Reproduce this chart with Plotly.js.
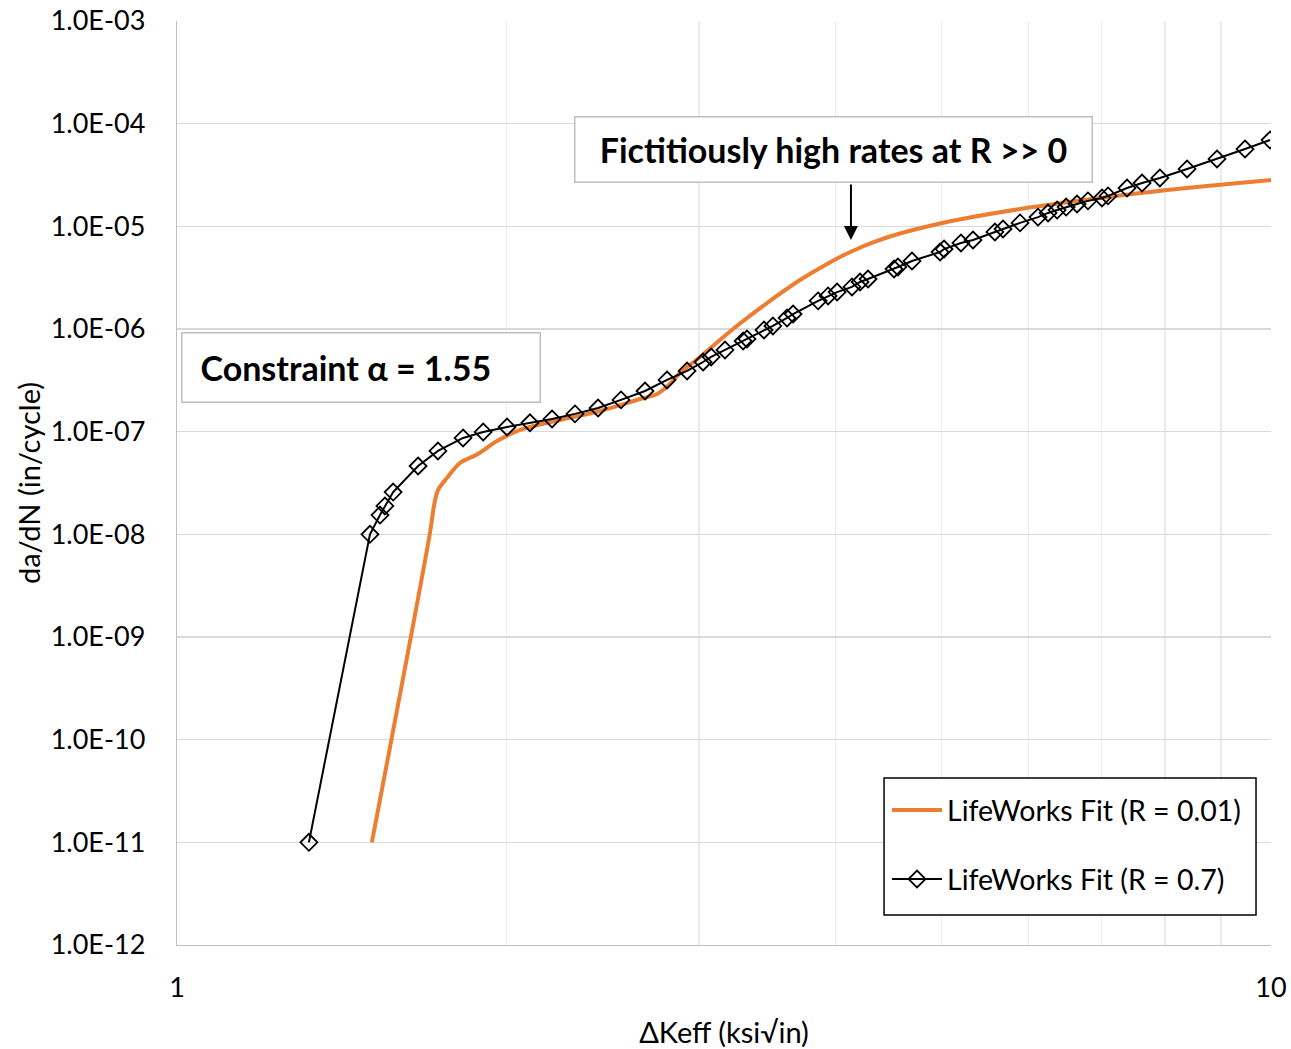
<!DOCTYPE html>
<html>
<head>
<meta charset="utf-8">
<script src="https://cdn.plot.ly/plotly-3.0.1.min.js"></script>
<style>
  html, body { margin: 0; padding: 0; background: #ffffff; }
  #chart { width: 1291px; height: 1049px; }
</style>
</head>
<body>
<div id="chart"></div>
<script>
// LifeWorks crack-growth fit, R = 0.01 (smooth curve)
const fitLowR_dK = [1.507, 1.703, 1.718, 1.732, 1.765, 1.814, 1.884, 1.961, 2.059, 2.239,
  2.436, 2.650, 2.747, 2.822, 2.882, 3.007, 3.223, 3.462, 3.711, 3.871, 4.036, 4.175,
  4.327, 4.484, 4.650, 4.983, 5.275, 6.059, 6.980, 8.034, 10.0];
const fitLowR_rate = [1.0e-11, 1.03e-8, 1.93e-8, 2.70e-8, 3.54e-8, 4.95e-8, 6.07e-8, 8.11e-8, 1.04e-7, 1.30e-7,
  1.59e-7, 2.08e-7, 2.33e-7, 2.91e-7, 3.73e-7, 5.34e-7, 1.0e-6, 1.79e-6, 3.00e-6, 3.93e-6, 5.03e-6, 5.95e-6,
  6.96e-6, 7.96e-6, 8.91e-6, 1.066e-5, 1.206e-5, 1.54e-5, 1.89e-5, 2.26e-5, 2.83e-5];

// LifeWorks crack-growth fit, R = 0.7 (evaluated points)
const fitHighR_dK = [1.320, 1.501, 1.533, 1.549, 1.576, 1.661, 1.732, 1.826, 1.905, 2.003,
  2.102, 2.202, 2.311, 2.426, 2.546, 2.678, 2.805, 2.926, 3.026, 3.078,
  3.169, 3.292, 3.319, 3.440, 3.505, 3.611, 3.657, 3.855, 3.937, 4.012,
  4.140, 4.211, 4.282, 4.523, 4.560, 4.697, 4.983, 5.025, 5.207, 5.341,
  5.593, 5.689, 5.897, 6.124, 6.255, 6.375, 6.497, 6.648, 6.803, 7.007,
  7.097, 7.386, 7.623, 7.915, 8.381, 8.926, 9.468, 9.98];
const fitHighR_rate = [1.0e-11, 1.0e-8, 1.54e-8, 1.89e-8, 2.58e-8, 4.63e-8, 6.49e-8, 8.68e-8, 9.93e-8, 1.11e-7,
  1.22e-7, 1.33e-7, 1.49e-7, 1.70e-7, 2.04e-7, 2.49e-7, 3.19e-7, 3.90e-7, 4.77e-7, 5.34e-7,
  6.25e-7, 7.64e-7, 8.00e-7, 9.78e-7, 1.07e-6, 1.28e-6, 1.40e-6, 1.88e-6, 2.10e-6, 2.29e-6,
  2.57e-6, 2.87e-6, 3.07e-6, 3.84e-6, 4.02e-6, 4.59e-6, 5.62e-6, 6.01e-6, 6.89e-6, 7.36e-6,
  8.81e-6, 9.42e-6, 1.08e-5, 1.23e-5, 1.35e-5, 1.44e-5, 1.54e-5, 1.65e-5, 1.77e-5, 1.89e-5,
  1.98e-5, 2.36e-5, 2.64e-5, 2.96e-5, 3.62e-5, 4.53e-5, 5.66e-5, 6.93e-5];

const seriesNames = ['LifeWorks Fit (R = 0.01)', 'LifeWorks Fit (R = 0.7)'];

// Axis ticks
const xTickVals = [1, 2, 3, 4, 5, 6, 7, 8, 9, 10];
const xTickText = ['1', '', '', '', '', '', '', '', '', '10'];
const yTickVals = [1e-12, 1e-11, 1e-10, 1e-9, 1e-8, 1e-7, 1e-6, 1e-5, 1e-4, 1e-3];
const yTickText = ['1.0E-12', '1.0E-11', '1.0E-10', '1.0E-09', '1.0E-08',
  '1.0E-07', '1.0E-06', '1.0E-05', '1.0E-04', '1.0E-03'];

// Callout text and arrow target
const calloutText = 'Fictitiously high rates at R >> 0';
const calloutTarget = { dK: 4.131, rate: 7.36e-6 };
const constraintText = 'Constraint α = 1.55';

const FONT = 'Lato, "Open Sans", sans-serif';

const traces = [
  {
    x: fitLowR_dK, y: fitLowR_rate,
    name: seriesNames[0], legendgroup: 'a',
    mode: 'lines', type: 'scatter',
    line: { color: '#ED7D31', width: 4, shape: 'spline', smoothing: 0.9 },
    hoverinfo: 'x+y'
  },
  {
    x: fitHighR_dK, y: fitHighR_rate,
    name: seriesNames[1], legendgroup: 'b',
    mode: 'lines+markers', type: 'scatter',
    line: { color: '#000000', width: 2 },
    marker: { symbol: 'diamond-open', size: 13, color: '#000000', line: { width: 1.8, color: '#000000' } },
    hoverinfo: 'x+y'
  }
];

const layout = {
  width: 1291, height: 1049,
  margin: { l: 177, r: 20, t: 21, b: 104 },
  paper_bgcolor: '#ffffff', plot_bgcolor: '#ffffff',
  font: { family: FONT, size: 27, color: '#000000' },
  showlegend: true,
  legend: {
    x: 0.649, y: 0.1732, xanchor: 'left', yanchor: 'top',
    borderwidth: 0, bgcolor: 'rgba(0,0,0,0)',
    font: { family: FONT, size: 28.5, color: '#000000' },
    tracegroupgap: 29, itemwidth: 50
  },
  // legend frame
  shapes: [
    {
      type: 'rect', xref: 'paper', yref: 'paper', layer: 'above',
      x0: 0.6463, x1: 0.9863, y0: 0.0325, y1: 0.1807,
      line: { color: '#000000', width: 1.5 }, fillcolor: '#ffffff'
    }
  ],
  xaxis: {
    type: 'log', range: [0, 1],
    tickvals: xTickVals, ticktext: xTickText,
    showgrid: true, gridcolor: '#ebebeb', gridwidth: 1.3,
    showline: true, linecolor: '#bfbfbf', linewidth: 1.3,
    zeroline: false, ticks: '', ticklabelstandoff: 18,
    tickfont: { family: FONT, size: 27 },
    title: { text: 'ΔKeff (ksi√in)', font: { family: FONT, size: 29 }, standoff: 22 }
  },
  yaxis: {
    type: 'log', range: [-12, -3],
    tickvals: yTickVals, ticktext: yTickText,
    showgrid: true, gridcolor: '#d9d9d9', gridwidth: 1.3,
    showline: true, linecolor: '#bfbfbf', linewidth: 1.3,
    zeroline: false, ticks: '', ticklabelstandoff: 25,
    tickfont: { family: FONT, size: 27 },
    title: { text: 'da/dN (in/cycle)', font: { family: FONT, size: 29 }, standoff: 1 }
  },
  annotations: [
    {
      xref: 'paper', yref: 'paper', x: 0.6005, y: 0.8604,
      xanchor: 'center', yanchor: 'middle',
      text: '<b>' + calloutText + '</b>', showarrow: false,
      font: { family: FONT, size: 34, color: '#000000' },
      bgcolor: '#ffffff', bordercolor: '#bfbfbf', borderwidth: 1.5, borderpad: 0,
      width: 516, height: 64
    },
    {
      xref: 'x', yref: 'y', x: Math.log10(calloutTarget.dK), y: Math.log10(calloutTarget.rate),
      text: '', showarrow: true, ax: 0, ay: -57,
      arrowhead: 2, arrowsize: 1.4, arrowwidth: 2, arrowcolor: '#000000'
    },
    {
      xref: 'paper', yref: 'paper', x: 0.1682, y: 0.6245,
      xanchor: 'center', yanchor: 'middle',
      text: '<b>' + constraintText + '</b>', showarrow: false, align: 'left',
      font: { family: FONT, size: 34, color: '#000000' },
      bgcolor: '#ffffff', bordercolor: '#bfbfbf', borderwidth: 1.5, borderpad: 18,
      width: 321, height: 32
    }
  ]
};

Plotly.newPlot('chart', traces, layout, { displayModeBar: false, staticPlot: true });
</script>
</body>
</html>
